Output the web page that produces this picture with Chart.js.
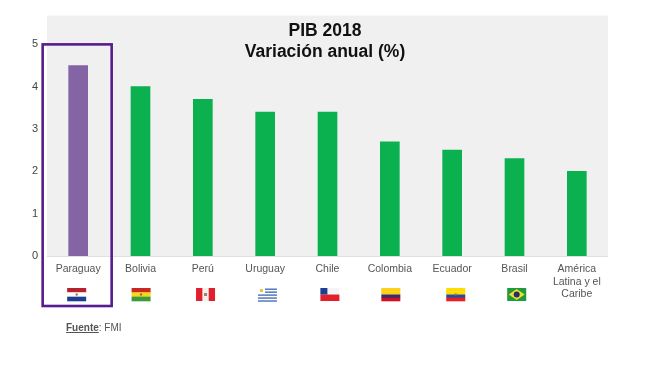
<!DOCTYPE html>
<html>
<head>
<meta charset="utf-8">
<style>
    body { margin: 0; background: #fff; }
    #wrap { position: relative; width: 650px; height: 371px; }
    #fuente { position: absolute; left: 66px; top: 322px; font: 10px "Liberation Sans", Arial, sans-serif; color: #555; }
    #fuente b { text-decoration: underline; }
</style>
<script src="https://cdn.jsdelivr.net/npm/chart.js@4"></script>
</head>
<body>
<div id="wrap">
    <canvas id="pibChart" width="650" height="371"></canvas>
    <div id="fuente"><b>Fuente</b>: FMI</div>
</div>
<script>
const categories = ['Paraguay', 'Bolivia', 'Perú', 'Uruguay', 'Chile', 'Colombia', 'Ecuador', 'Brasil', ['América', 'Latina y el', 'Caribe']];
const values = [4.5, 4.0, 3.7, 3.4, 3.4, 2.7, 2.5, 2.3, 2.0];
const barColors = ['#8464a5', '#0bb04f', '#0bb04f', '#0bb04f', '#0bb04f', '#0bb04f', '#0bb04f', '#0bb04f', '#0bb04f'];
const titleLines = ['PIB 2018', 'Variación anual (%)'];

// flag stripes, top to bottom; the last category has no flag
const flagStripes = [
    ['#b8202c', '#ffffff', '#1c3f94'],
    ['#c8281e', '#f4d820', '#3a9a3c'],
    null,
    null,
    null,
    ['#fcd116', '#fcd116', '#3b2a6e', '#ce1126'],
    ['#ffdd00', '#ffdd00', '#2a4a9a', '#ed1c24'],
    null,
    null
];

function drawFlag(ctx, i, x, y, w, h) {
    const stripes = flagStripes[i];
    if (stripes) {
        stripes.forEach((c, s) => {
            ctx.fillStyle = c;
            ctx.fillRect(x, y + s * h / stripes.length, w, h / stripes.length + 0.3);
        });
        // small emblem in the middle
        if (i === 0 || i === 1 || i === 6) {
            ctx.fillStyle = i === 6 ? '#8a7a50' : '#a05a30';
            ctx.fillRect(x + w / 2 - 1, y + h / 2 - 1, 2, 2);
        }
    }
    if (categories[i] === 'Perú') {
        ctx.fillStyle = '#e2202c';
        ctx.fillRect(x, y, w, h);
        ctx.fillStyle = '#f4f0ee';
        ctx.fillRect(x + w / 3, y, w / 3, h);
        ctx.fillStyle = '#a08060';
        ctx.fillRect(x + w / 2 - 1.5, y + h / 2 - 1.5, 3, 3);
    }
    if (categories[i] === 'Uruguay') {
        for (let s = 0; s < 5; s++) {
            ctx.fillStyle = '#4a70b8';
            ctx.fillRect(x, y + 0.5 + s * h / 4.4, w, 1.4);
        }
        ctx.fillStyle = '#fff';
        ctx.fillRect(x, y - 1, 7, 7);
        ctx.fillStyle = '#e8c840';
        ctx.fillRect(x + 2, y + 1, 3, 3);
    }
    if (categories[i] === 'Chile') {
        ctx.fillStyle = '#f4f4f4';
        ctx.fillRect(x, y, w, h / 2);
        ctx.fillStyle = '#e2202c';
        ctx.fillRect(x, y + h / 2, w, h / 2);
        ctx.fillStyle = '#1c3f94';
        ctx.fillRect(x, y, 7, h / 2);
    }
    if (categories[i] === 'Brasil') {
        ctx.fillStyle = '#1f9a3c';
        ctx.fillRect(x, y, w, h);
        ctx.fillStyle = '#f5dc20';
        ctx.beginPath();
        ctx.moveTo(x + 1.5, y + h / 2);
        ctx.lineTo(x + w / 2, y + 1);
        ctx.lineTo(x + w - 1.5, y + h / 2);
        ctx.lineTo(x + w / 2, y + h - 1);
        ctx.fill();
        ctx.fillStyle = '#1c2f78';
        ctx.beginPath();
        ctx.arc(x + w / 2, y + h / 2, 3, 0, Math.PI * 2);
        ctx.fill();
    }
}

const decorations = {
    id: 'decorations',
    beforeDraw(chart) {
        const { ctx, chartArea: a } = chart;
        ctx.save();
        ctx.fillStyle = '#f0f0f0';
        ctx.fillRect(a.left, a.top, a.right - a.left, a.bottom - a.top);
        ctx.fillStyle = '#e0e0e0';
        ctx.fillRect(a.left, a.bottom, a.right - a.left, 1);
        ctx.restore();
    },
    afterDraw(chart) {
        const { ctx, scales } = chart;
        const zero = scales.y.getPixelForValue(0);
        // flags do not sit exactly under the ticks in the picture
        const nudge = [-1.5, 0.6, 2.7, 2.3, 2.4, 1, 3.6, 2.2];
        ctx.save();
        nudge.forEach((n, i) => {
            drawFlag(ctx, i, scales.x.getPixelForValue(i) - 9.5 + n, zero + 32, 19, 13);
        });
        // box round the first category
        const cx = scales.x.getPixelForValue(0);
        ctx.strokeStyle = '#561d8c';
        ctx.lineWidth = 2.6;
        ctx.strokeRect(cx - 35.5, scales.y.getPixelForValue(5), 69, zero + 50 - scales.y.getPixelForValue(5));
        ctx.restore();
    }
};

const ctx = document.getElementById('pibChart').getContext('2d');
const myChart = new Chart(ctx, {
    type: 'bar',
    data: {
        labels: categories,
        datasets: [{
            data: values,
            backgroundColor: barColors,
            barThickness: 19
        }]
    },
    options: {
        responsive: false,
        animation: false,
        layout: { padding: { top: 15, right: 0, left: 0, bottom: 0 } },
        plugins: {
            legend: { display: false },
            tooltip: { enabled: false },
            title: {
                display: true,
                text: titleLines,
                color: '#111',
                font: { family: '"Liberation Sans", Arial, sans-serif', size: 17.5, weight: 'bold', lineHeight: 21 / 17.5 },
                padding: { top: 5, bottom: -47 }
            }
        },
        scales: {
            x: {
                grid: { display: false, drawTicks: false },
                border: { display: false },
                afterFit(scale) { scale.height = 115; },
                ticks: {
                    autoSkip: false,
                    maxRotation: 0,
                    padding: 7,
                    color: '#555',
                    font: { family: '"Liberation Sans", Arial, sans-serif', size: 10.5, lineHeight: 12.5 / 10.5 }
                }
            },
            y: {
                min: 0,
                max: 5.68,
                grid: { display: false, drawTicks: false },
                border: { display: false },
                afterFit(scale) { scale.width = 47; },
                ticks: {
                    stepSize: 1,
                    includeBounds: false,
                    padding: 9,
                    color: '#444',
                    font: { family: '"Liberation Sans", Arial, sans-serif', size: 11 }
                }
            },
            // empty axis, only there to leave the white margin on the right
            spacer: {
                position: 'right',
                grid: { display: false, drawTicks: false },
                border: { display: false },
                ticks: { display: false },
                afterFit(scale) { scale.width = 42; }
            }
        }
    },
    plugins: [decorations]
});
</script>
</body>
</html>
